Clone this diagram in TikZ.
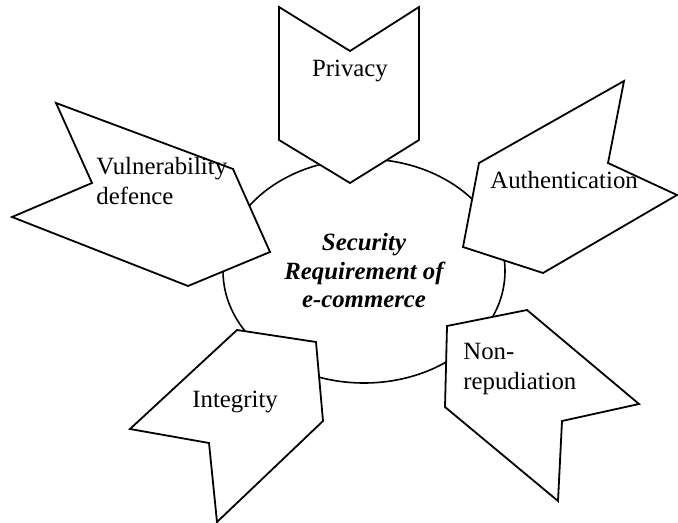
\documentclass[tikz,border=0pt]{standalone}
\usepackage{fontspec}
\setmainfont{Liberation Serif}
\usetikzlibrary{shapes.geometric}
\begin{document}
\begin{tikzpicture}[x=0.5pt,y=-0.5pt,
  chevron/.style={draw=black,fill=white,line width=0.9pt,line join=miter},
  label/.style={inner sep=0pt,font=\fontsize{12.4}{15}\selectfont,align=left},
  hub/.style={ellipse,draw=black,line width=0.8pt,inner sep=0pt,
    minimum width=141pt,minimum height=112pt,align=center,
    font=\fontsize{12.4}{14.25}\selectfont\bfseries\itshape}]
\useasboundingbox (0,0) rectangle (678,523);

% central requirement
\node[hub] (core) at (364,271) {Security\\Requirement of\\e-commerce};

% five requirement chevrons, each pointing at the centre
\draw[chevron] (279,7) -- (350,51) -- (419,7) -- (419,140) -- (350,183) -- (279,140) -- cycle;
\draw[chevron] (624,81) -- (608,163) -- (677,195) -- (543,273) -- (463,247) -- (479,163) -- cycle;
\draw[chevron] (56,103) -- (92,183) -- (12,217) -- (188,286) -- (270,252) -- (233,169) -- cycle;
\draw[chevron] (130,429) -- (209,443) -- (217,522) -- (323,421) -- (316,342) -- (237,330) -- cycle;
\draw[chevron] (447,326) -- (527,310) -- (639,404) -- (562,421) -- (558,501) -- (445,407) -- cycle;

% chevron labels (multi-line labels sit on their last baseline)
\node[label,anchor=base] (privacy) at (350,77) {Privacy};
\node[label,anchor=base west] (auth) at (490,189) {Authentication};
\node[label,anchor=base west] (vuln) at (96,205) {Vulnerability\\defence};
\node[label,anchor=base west] (integ) at (192,407) {Integrity};
\node[label,anchor=base west] (nonrep) at (463,389) {Non-\\repudiation};
\end{tikzpicture}
\end{document}
